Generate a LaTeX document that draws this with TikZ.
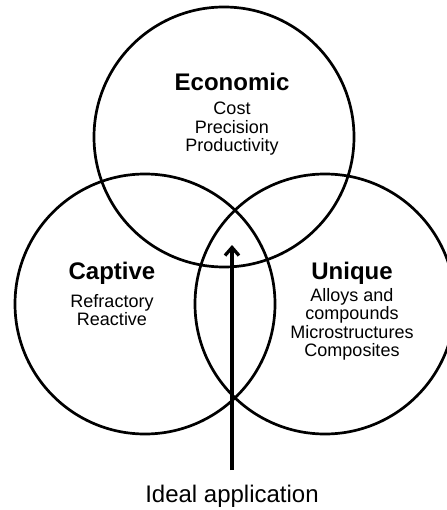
\documentclass[tikz,border=0pt]{standalone}
\usepackage{fontspec}
\setmainfont{Liberation Sans}
\usetikzlibrary{arrows.meta}
\begin{document}
\begin{tikzpicture}[x=1pt,y=-1pt,
  ring/.style={circle,draw,line width=2.7pt,minimum size=260pt,inner sep=0pt},
  title/.style={anchor=base,inner sep=0pt,font=\fontsize{24}{24}\selectfont\bfseries},
  item/.style={anchor=base,inner sep=0pt,font=\fontsize{18}{18}\selectfont},
  big/.style={anchor=base,inner sep=0pt,font=\fontsize{24}{24}\selectfont}]
\useasboundingbox (0,0) rectangle (446,510);
\node[ring] (econ) at (224,137) {};
\node[ring] (capt) at (145,304) {};
\node[ring] (uniq) at (325,304) {};
% Economic
\node[title] (t1) at (232,91) {Economic};
\node[item] (e1) at (232,115) {Cost};
\node[item] (e2) at (232,133.5) {Precision};
\node[item] (e3) at (232,152) {Productivity};
% Captive
\node[title] (t2) at (112,279) {Captive};
\node[item] (c1) at (112,307) {Refractory};
\node[item] (c2) at (112,325) {Reactive};
% Unique
\node[title] (t3) at (352,279) {Unique};
\node[item] (u1) at (352,301) {Alloys and};
\node[item] (u2) at (352,319.5) {compounds};
\node[item] (u3) at (352,338) {Microstructures};
\node[item] (u4) at (352,356.5) {Composites};
% arrow
\node[big] (ideal) at (232,502) {Ideal application};
\coordinate (astart) at (232,470);
\coordinate (aend) at (232,245);
\draw[line width=3.3pt,-{Straight Barb[length=8pt,width=14pt]}] (astart) -- (aend);
\end{tikzpicture}
\end{document}
